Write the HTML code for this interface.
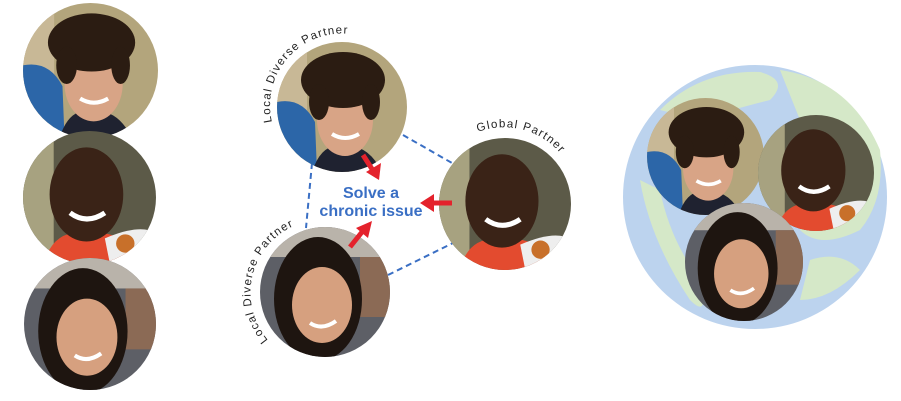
<!DOCTYPE html>
<html><head><meta charset="utf-8"><style>
html,body{margin:0;padding:0;background:#fff;width:901px;height:401px;overflow:hidden}
svg{display:block}
</style></head><body>
<svg width="901" height="401" viewBox="0 0 901 401" xmlns="http://www.w3.org/2000/svg">
<defs>
<clipPath id="cc"><circle cx="65" cy="65" r="65"/></clipPath>
<symbol id="b1" viewBox="0 0 130 130"><g clip-path="url(#cc)">
<rect width="130" height="130" fill="#b3a57c"/>
<rect x="0" y="0" width="30" height="130" fill="#c8b896"/>
<path d="M0 60 Q25 55 38 80 L40 130 L0 130Z" fill="#2c66a8"/>
<path d="M35 130 Q45 100 65 105 Q90 100 105 130Z" fill="#1f2230"/>
<ellipse cx="68" cy="78" rx="28" ry="36" fill="#d8a486"/>
<ellipse cx="66" cy="38" rx="42" ry="28" fill="#2b1c12"/>
<ellipse cx="42" cy="60" rx="10" ry="18" fill="#2b1c12"/>
<ellipse cx="94" cy="60" rx="9" ry="18" fill="#2b1c12"/>
<path d="M55 92 Q68 100 82 92" stroke="#fff" stroke-width="4" fill="none"/>
</g></symbol>
<symbol id="b2" viewBox="0 0 130 130"><g clip-path="url(#cc)">
<rect width="130" height="130" fill="#5c5a48"/>
<rect x="0" y="0" width="30" height="130" fill="#a7a280"/>
<path d="M20 130 Q30 95 62 100 Q100 95 115 130Z" fill="#e34b2f"/>
<path d="M80 105 Q115 90 130 100 L130 130 L85 130Z" fill="#eee"/>
<ellipse cx="62" cy="62" rx="36" ry="46" fill="#3a2317"/>
<path d="M46 80 Q62 92 80 80" stroke="#fff" stroke-width="5" fill="none"/>
<circle cx="100" cy="110" r="9" fill="#c8702a"/>
</g></symbol>
<symbol id="g1" viewBox="0 0 130 130"><g clip-path="url(#cc)">
<rect width="130" height="130" fill="#5d5f66"/>
<rect x="0" y="0" width="130" height="30" fill="#b9b3aa"/>
<rect x="100" y="30" width="30" height="60" fill="#8b6a55"/>
<ellipse cx="58" cy="72" rx="44" ry="62" fill="#1e1510"/>
<ellipse cx="62" cy="78" rx="30" ry="38" fill="#d6a07f"/>
<path d="M50 96 Q62 104 76 94" stroke="#fff" stroke-width="4" fill="none"/>
</g></symbol>
<path id="a1" d="M272 122 A72 72 0 0 1 372 40"/>
<path id="a2" d="M478 132 A74 74 0 0 1 578 200"/>
<path id="a3" d="M268 340 A73 73 0 0 1 305 222"/>
</defs>

<use href="#b1" x="23" y="3" width="135" height="135"/>
<use href="#b2" x="23" y="131" width="133" height="133"/>
<use href="#g1" x="24" y="258" width="132" height="132"/>

<g stroke="#3a6fc4" stroke-width="2" stroke-dasharray="6,4" fill="none">
<line x1="403" y1="135" x2="452" y2="163"/>
<line x1="312" y1="163" x2="306" y2="228"/>
<line x1="388" y1="275" x2="453" y2="243"/>
</g>
<use href="#b1" x="277" y="42" width="130" height="130"/>
<use href="#b2" x="439" y="138" width="132" height="132"/>
<use href="#g1" x="260" y="227" width="130" height="130"/>
<g fill="#e4222c" stroke="#e4222c">
<line x1="363" y1="155" x2="372" y2="169" stroke-width="5"/>
<polygon points="366,172 381,163 379,180" stroke="none"/>
<line x1="452" y1="203" x2="432" y2="203" stroke-width="5"/>
<polygon points="434,194 420,203 434,212" stroke="none"/>
<line x1="350" y1="247" x2="362" y2="232" stroke-width="5"/>
<polygon points="356,228 372,221 368,238" stroke="none"/>
</g>
<text x="371" y="198" text-anchor="middle" font-family="Liberation Sans, sans-serif" font-weight="bold" font-size="16" fill="#3a6fc4">Solve a</text>
<text x="371" y="216" text-anchor="middle" font-family="Liberation Sans, sans-serif" font-weight="bold" font-size="16" fill="#3a6fc4">chronic issue</text>
<g font-family="Liberation Sans, sans-serif" font-size="11.5" fill="#222" letter-spacing="1.2">
<text><textPath href="#a1">Local Diverse Partner</textPath></text>
<text><textPath href="#a2">Global Partner</textPath></text>
<text><textPath href="#a3">Local Diverse Partner</textPath></text>
</g>

<circle cx="755" cy="197" r="132" fill="#bcd3ee"/>
<path d="M660 110 Q700 70 760 72 Q790 80 770 100 Q730 110 700 120Z" fill="#d5e8c8"/>
<path d="M780 70 Q850 80 880 150 Q885 200 860 230 Q820 250 800 230 Q840 200 800 120Z" fill="#d5e8c8"/>
<path d="M640 180 Q650 240 690 300 Q710 320 700 280 Q670 240 660 190Z" fill="#d5e8c8"/>
<path d="M810 260 Q840 250 860 270 Q830 300 800 300Z" fill="#d5e8c8"/>
<use href="#b1" x="647" y="98" width="117" height="117"/>
<use href="#b2" x="758" y="115" width="116" height="116"/>
<use href="#g1" x="685" y="203" width="118" height="118"/>
</svg>
</body></html>
